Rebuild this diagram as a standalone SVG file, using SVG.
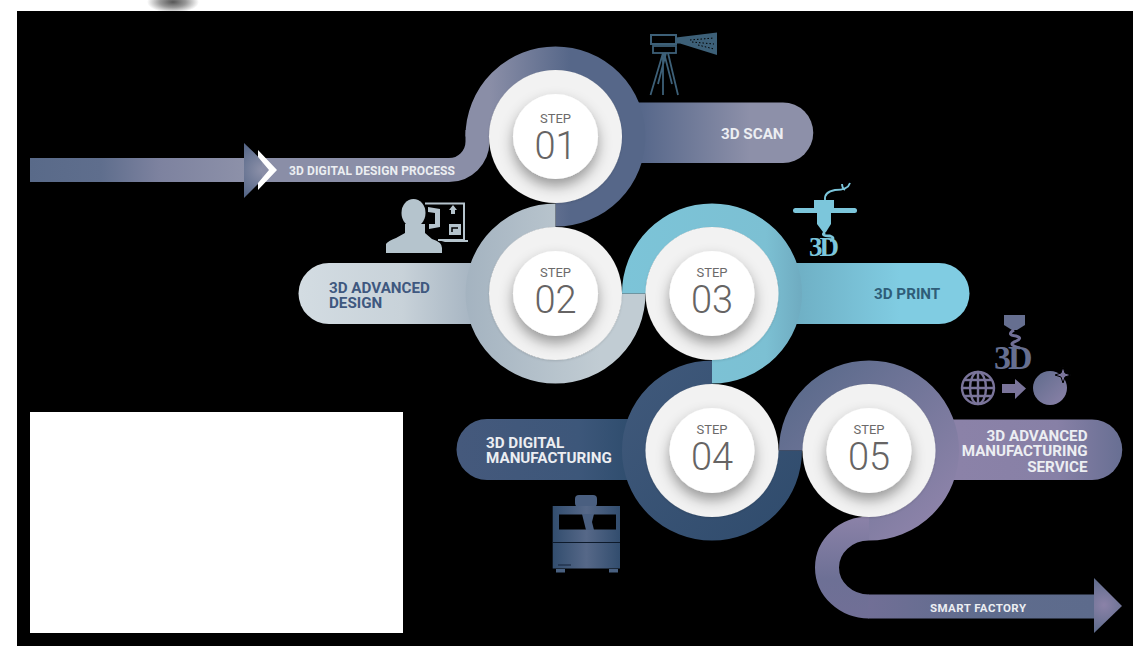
<svg xmlns="http://www.w3.org/2000/svg" width="1133" height="646" viewBox="0 0 1133 646">
<style>
.ring{fill:none;stroke-width:24}
.mid{fill:#f2f2f2;filter:url(#soft)}
.in{fill:#fff;filter:url(#sh)}
text{font-family:Roboto,"Liberation Sans",sans-serif}
.st{font-size:13px;fill:#6c6a6a;text-anchor:middle;font-weight:400}
.num{font-size:38px;fill:#666464;text-anchor:middle;font-weight:300}
.lb{font-size:15.2px;font-weight:700}
.ic3d{font-family:"Liberation Serif",serif;font-weight:700;letter-spacing:-3px}
</style>
<defs>
<filter id="sh" x="-40%" y="-40%" width="180%" height="190%"><feDropShadow dx="0" dy="7" stdDeviation="7" flood-color="#000" flood-opacity=".38"/></filter>
<filter id="soft" x="-20%" y="-20%" width="140%" height="140%"><feDropShadow dx="0" dy="1" stdDeviation="1" flood-color="#000" flood-opacity=".12"/></filter>
<radialGradient id="blob"><stop offset="0" stop-color="#555"/><stop offset=".5" stop-color="#999"/><stop offset="1" stop-color="#fff"/></radialGradient>
<linearGradient id="inBand" gradientUnits="userSpaceOnUse" x1="30" y1="0" x2="245" y2="0"><stop offset="0" stop-color="#596a89"/><stop offset=".33" stop-color="#5f6e8d"/><stop offset=".6" stop-color="#7d829f"/><stop offset="1" stop-color="#8d91a9"/></linearGradient>
<radialGradient id="head1" gradientUnits="userSpaceOnUse" cx="262" cy="170" r="30"><stop offset="0" stop-color="#8d91a9"/><stop offset="1" stop-color="#566788"/></radialGradient>
<linearGradient id="r1" gradientUnits="userSpaceOnUse" x1="490" y1="0" x2="570" y2="0"><stop offset="0" stop-color="#8a8ea7"/><stop offset="1" stop-color="#566789"/></linearGradient>
<linearGradient id="p1" gradientUnits="userSpaceOnUse" x1="640" y1="0" x2="750" y2="0"><stop offset="0" stop-color="#56678a"/><stop offset="1" stop-color="#8d90a9"/></linearGradient>
<linearGradient id="r2" gradientUnits="userSpaceOnUse" x1="465" y1="0" x2="600" y2="0"><stop offset="0" stop-color="#a4b3c0"/><stop offset="1" stop-color="#c1ccd3"/></linearGradient>
<linearGradient id="p2" gradientUnits="userSpaceOnUse" x1="300" y1="0" x2="470" y2="0"><stop offset="0" stop-color="#d3dce2"/><stop offset=".6" stop-color="#c8d2d9"/><stop offset="1" stop-color="#a8b6c3"/></linearGradient>
<linearGradient id="r3" gradientUnits="userSpaceOnUse" x1="622" y1="0" x2="802" y2="0"><stop offset="0" stop-color="#7cc4d8"/><stop offset=".8" stop-color="#7cc0d3"/><stop offset="1" stop-color="#6fabc0"/></linearGradient>
<linearGradient id="p3" gradientUnits="userSpaceOnUse" x1="798" y1="0" x2="900" y2="0"><stop offset="0" stop-color="#6fb0c5"/><stop offset="1" stop-color="#80cce2"/></linearGradient>
<linearGradient id="r4" gradientUnits="userSpaceOnUse" x1="622" y1="370" x2="790" y2="530"><stop offset="0" stop-color="#40597b"/><stop offset="1" stop-color="#304c6d"/></linearGradient>
<linearGradient id="p4" gradientUnits="userSpaceOnUse" x1="457" y1="0" x2="630" y2="0"><stop offset="0" stop-color="#45597c"/><stop offset=".7" stop-color="#3d577a"/><stop offset="1" stop-color="#2f4d6e"/></linearGradient>
<linearGradient id="r5" gradientUnits="userSpaceOnUse" x1="800" y1="385" x2="930" y2="515"><stop offset="0" stop-color="#5c6b8c"/><stop offset="1" stop-color="#8b82a8"/></linearGradient>
<linearGradient id="p5" gradientUnits="userSpaceOnUse" x1="960" y1="0" x2="1122" y2="0"><stop offset="0" stop-color="#8b82a8"/><stop offset=".6" stop-color="#8780a6"/><stop offset="1" stop-color="#686f93"/></linearGradient>
<linearGradient id="s5" gradientUnits="userSpaceOnUse" x1="0" y1="517" x2="0" y2="620"><stop offset="0" stop-color="#8b82a8"/><stop offset=".6" stop-color="#6d7095"/><stop offset="1" stop-color="#716f96"/></linearGradient>
<linearGradient id="outBand" gradientUnits="userSpaceOnUse" x1="869" y1="0" x2="1094" y2="0"><stop offset="0" stop-color="#716f96"/><stop offset=".5" stop-color="#5f6c8d"/><stop offset="1" stop-color="#5d6b8c"/></linearGradient>
<radialGradient id="head5" gradientUnits="userSpaceOnUse" cx="1104" cy="605" r="30"><stop offset="0" stop-color="#8b82a8"/><stop offset="1" stop-color="#5b6a8a"/></radialGradient>
<linearGradient id="mach" x1="0" y1="0" x2="1" y2="0"><stop offset="0" stop-color="#324d6e"/><stop offset=".5" stop-color="#566888"/><stop offset="1" stop-color="#324d6e"/></linearGradient>
<linearGradient id="ic5" x1="0" y1="0" x2="1" y2="1"><stop offset="0" stop-color="#5f6b8c"/><stop offset="1" stop-color="#8b82a8"/></linearGradient>
</defs>
<rect width="1133" height="646" fill="#fff"/>
<ellipse cx="173" cy="2" rx="26" ry="11" fill="url(#blob)"/>
<rect x="17" y="11" width="1116" height="635" fill="#000"/>
<rect id="blank-panel" x="30" y="412" width="373" height="221" fill="#fff"/>

<g id="connectors">
<rect x="30" y="158" width="215" height="24" fill="url(#inBand)"/>
<path d="M244 143L272 170L244 198Z" fill="url(#head1)"/>
<path d="M262 170H449A28.500 28.500 0 0 0 477.500 141.500V130" fill="none" stroke="#8a8ea7" stroke-width="24"/>
<path d="M258 150L277 170L258 190V183L269 170L258 157Z" fill="#fff"/>
<text x="289" y="174.500" font-size="12" font-weight="700" fill="#eceef2" textLength="166">3D DIGITAL DESIGN PROCESS</text>
<path d="M869 528.500A42 39 0 0 0 869 606.500" class="ring" stroke="url(#s5)"/>
<path d="M868.500 606.500H1094" class="ring" stroke="url(#outBand)"/>
<path d="M1094 578L1122 606L1094 633Z" fill="url(#head5)"/>
<text x="930" y="611.500" font-size="11.500" font-weight="700" fill="#eceef2" textLength="96">SMART FACTORY</text>
</g>

<g id="step-01">
<path d="M620 102.500H783A30 30 0 0 1 783 163H620Z" fill="url(#p1)"/>
<path d="M477.500 136.500A78 78 0 1 1 555.500 214.500" class="ring" stroke="url(#r1)"/>
<circle class="mid" cx="555.500" cy="136.500" r="66.500"/><circle class="in" cx="555.500" cy="136.500" r="42.500"/>
<text class="st" x="555.500" y="123">STEP</text><text class="num" x="555.500" y="158.500">01</text>
<text class="lb" x="721" y="139" fill="#eceef2">3D SCAN</text>
<g fill="none" stroke="#3d6078" stroke-width="1.800">
<rect x="651" y="35" width="25" height="9" stroke-width="2"/>
<rect x="653" y="46" width="23" height="7"/>
<path d="M663 53L650.500 95M666 53L658 84M663 53V95M668 53L678 95M664 53L672 84"/>
</g>
<path d="M676 37.500L717 32.500V55L680 43.500H676Z" fill="#3d6078"/>
<path d="M690 40L714 38M692 42L714 44M698 45L714 49" stroke="#000" stroke-width="1" stroke-dasharray="1.500 2" fill="none"/>
</g>

<g id="step-02">
<path d="M480 263H329A30.500 30.500 0 0 0 329 324H480Z" fill="url(#p2)"/>
<path d="M555.500 215.500A78 78 0 1 0 633.500 293.500" class="ring" stroke="url(#r2)"/>
<circle class="mid" cx="555.500" cy="293.500" r="66.500"/><circle class="in" cx="555.500" cy="293.500" r="42.500"/>
<text class="st" x="555.500" y="277.300">STEP</text><text class="num" x="555.500" y="312.700">02</text>
<text class="lb" fill="#3f587f"><tspan x="329" y="292.700">3D ADVANCED</tspan><tspan x="329" y="308">DESIGN</tspan></text>
<g fill="#b5c4cd">
<path d="M425 203.500H464V240H438" fill="none" stroke="#b5c4cd" stroke-width="2"/>
<path d="M438 240H468V242H445Z"/>
<ellipse cx="413.500" cy="213" rx="12" ry="14"/>
<path d="M386 253V244Q388 241 396 238L405 233V224H425V233L432 239Q442 242 442 248V253Z"/>
<path d="M428 207L440 209V227L429 229V224H435V213L428 212Z"/>
<path d="M453 205L457 210H455V214H451V210H449Z"/>
<path d="M449 224H461V235H449Z"/>
</g>
<path d="M452 232V228H458" fill="none" stroke="#000" stroke-width="1.500"/>
</g>

<g id="step-03">
<path d="M780 263H939A30.500 30.500 0 0 1 939 324H780Z" fill="url(#p3)"/>
<path d="M634 293.500A78 78 0 1 1 712 371.500" class="ring" stroke="url(#r3)"/>
<circle class="mid" cx="712" cy="293.500" r="66.500"/><circle class="in" cx="712" cy="293.500" r="42.500"/>
<text class="st" x="712" y="277.300">STEP</text><text class="num" x="712" y="312.700">03</text>
<text class="lb" x="874" y="299" fill="#2f5d78">3D PRINT</text>
<g fill="#7cc6db">
<rect x="793" y="208" width="64" height="5" rx="2.500"/>
<path d="M814 200H834V208H814ZM817 213H831V224L826 232H823L817 224Z"/>
<text class="ic3d" x="809" y="256" font-size="27">3D</text>
</g>
<path d="M825 200Q824 192 835 190Q848 190 850 183M845 190Q842 188 842 184" fill="none" stroke="#7cc6db" stroke-width="1.800"/>
<path d="M825 232Q820 236 830 236Q836 238 830 241" fill="none" stroke="#7cc6db" stroke-width="2.800"/>
</g>

<g id="step-04">
<path d="M640 419H487A30.500 30.500 0 0 0 487 480H640Z" fill="url(#p4)"/>
<path d="M712 372.500A78 78 0 1 0 790 450.500" class="ring" stroke="url(#r4)"/>
<circle class="mid" cx="712" cy="450.500" r="66.500"/><circle class="in" cx="712" cy="450.500" r="42.500"/>
<text class="st" x="712" y="434.300">STEP</text><text class="num" x="712" y="469.700">04</text>
<text class="lb" fill="#eceef2"><tspan x="486" y="448">3D DIGITAL</tspan><tspan x="486" y="463.300">MANUFACTURING</tspan></text>
<rect x="575" y="495" width="22" height="12" rx="4" fill="#4a5f80"/>
<path d="M552.700 506H620V568.500H552.700Z" fill="url(#mach)"/>
<path d="M559 514.500H616V529.500H559Z" fill="#000"/>
<path d="M582 514H594L592 522L594 530H586L584 522Z" fill="#4a5f80"/>
<rect x="552.700" y="542" width="67.300" height="1" fill="#0d1a2b"/>
<rect x="558" y="564.500" width="13" height="1" fill="#14233a"/>
<rect x="556" y="569" width="9" height="3.500" fill="#496080"/><rect x="609" y="569" width="9" height="3.500" fill="#496080"/>
</g>

<g id="step-05">
<path d="M940 419.500H1092A30 30 0 0 1 1092 480H940Z" fill="url(#p5)"/>
<path d="M791 450.500A78 78 0 1 1 869 528.500" class="ring" stroke="url(#r5)"/>
<circle class="mid" cx="869" cy="450.500" r="66.500"/><circle class="in" cx="869" cy="450.500" r="42.500"/>
<text class="st" x="869" y="434.300">STEP</text><text class="num" x="869" y="469.700">05</text>
<text class="lb" fill="#eceef2" text-anchor="end"><tspan x="1087.500" y="441">3D ADVANCED</tspan><tspan x="1087.500" y="456.300">MANUFACTURING</tspan><tspan x="1087.500" y="472">SERVICE</tspan></text>
<path d="M1004 315H1025V325L1017 330H1012L1004 325Z" fill="#666f90"/>
<path d="M1014 330Q1006 335 1016 336Q1024 338 1014 342Q1008 345 1020 348" fill="none" stroke="#716f96" stroke-width="3"/>
<text class="ic3d" x="994" y="369" font-size="34" fill="#666f90">3D</text>
<g fill="none" stroke="#7a749a" stroke-width="2.400">
<circle cx="978" cy="388" r="16"/><ellipse cx="978" cy="388" rx="8" ry="16"/><path d="M962 388H994M965 380H991M965 396H991M978 372V404"/>
</g>
<path d="M1002 384H1015V379L1026 388.500L1015 399V393H1002Z" fill="#7a749a"/>
<circle cx="1050" cy="388" r="17" fill="url(#ic5)"/>
<path d="M1063 367L1065 373L1071 375L1065 377L1063 383L1061 377L1055 375L1061 373Z" fill="#7a749a" stroke="#000"/>
</g>
</svg>
